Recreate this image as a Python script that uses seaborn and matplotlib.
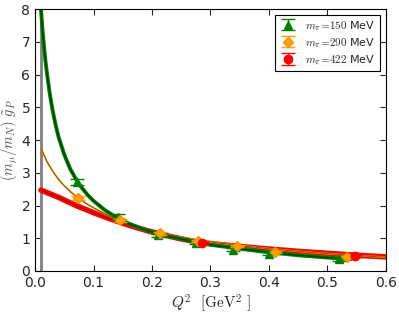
import matplotlib
matplotlib.use("Agg")
import matplotlib.pyplot as plt
import seaborn as sns
import numpy as np

# donnees lues sur la figure
# points lattice
q2_150 = [0.072, 0.142, 0.210, 0.275, 0.339, 0.400, 0.520]
gp_150 = [2.72, 1.66, 1.09, 0.86, 0.65, 0.53, 0.36]
err_150 = [0.10, 0.07, 0.05, 0.05, 0.04, 0.04, 0.04]

q2_290 = [0.073, 0.145, 0.214, 0.279, 0.345, 0.410, 0.533]
gp_290 = [2.24, 1.55, 1.15, 0.93, 0.76, 0.59, 0.44]
err_290 = [0.06, 0.05, 0.04, 0.03, 0.03, 0.03, 0.03]

q2_422 = [0.285, 0.547]
gp_422 = [0.86, 0.46]
err_422 = [0.03, 0.03]

# courbes de fit (valeurs centrales)
fit_x_150 = [0.01, 0.0125, 0.015, 0.0175, 0.02, 0.025, 0.03, 0.035, 0.04, 0.05,
             0.06, 0.07, 0.08, 0.09, 0.10, 0.12, 0.14, 0.16, 0.18, 0.20,
             0.23, 0.26, 0.30, 0.35, 0.40, 0.45, 0.50, 0.54]
fit_y_150 = [8.0, 7.40, 6.90, 6.45, 6.07, 5.42, 4.90, 4.47, 4.10, 3.55,
             3.12, 2.80, 2.54, 2.32, 2.14, 1.85, 1.63, 1.45, 1.31, 1.19,
             1.05, 0.94, 0.80, 0.68, 0.57, 0.48, 0.41, 0.36]

fit_x_290 = [0.01, 0.02, 0.03, 0.04, 0.05, 0.06, 0.07, 0.08, 0.09, 0.10,
             0.12, 0.14, 0.16, 0.18, 0.20, 0.24, 0.28, 0.32, 0.36, 0.40,
             0.45, 0.50, 0.55, 0.60]
fit_y_290 = [3.75, 3.35, 3.05, 2.80, 2.60, 2.43, 2.28, 2.15, 2.03, 1.93,
             1.74, 1.59, 1.45, 1.32, 1.21, 1.05, 0.93, 0.84, 0.76, 0.68,
             0.60, 0.53, 0.47, 0.42]

fit_x_422 = [0.01, 0.04, 0.07, 0.10, 0.13, 0.16, 0.19, 0.22, 0.25, 0.28,
             0.31, 0.35, 0.40, 0.45, 0.50, 0.55, 0.60]
fit_y_422 = [2.47, 2.25, 2.00, 1.78, 1.58, 1.40, 1.24, 1.10, 0.98, 0.88,
             0.82, 0.75, 0.67, 0.60, 0.54, 0.48, 0.43]

sns.set_style("ticks")
plt.rcParams['font.family'] = ['DejaVu Sans']
plt.rcParams['mathtext.fontset'] = 'cm'
plt.rcParams['xtick.direction'] = 'in'
plt.rcParams['ytick.direction'] = 'in'

fig = plt.figure(figsize=(3.99, 3.14), dpi=100)
ax = fig.add_axes([0.088, 0.137, 0.879, 0.834])

# bande (trait epais) + ligne centrale sombre
series = [
    (fit_x_422, fit_y_422, 'red', 4.0, 0.6),
    (fit_x_290, fit_y_290, 'orange', 1.3, 0.7),
    (fit_x_150, fit_y_150, 'green', 2.8, 1.0),
]
for fx, fy, col, wband, wline in series:
    sns.lineplot(x=fx, y=fy, color=col, lw=wband, ax=ax, sort=False, estimator=None)
    sns.lineplot(x=fx, y=fy, color='black', lw=wline, alpha=0.5, ax=ax, sort=False, estimator=None)

ax.axvline(0.01, color='gray', lw=2, zorder=1)

ax.errorbar(q2_150, gp_150, yerr=err_150, fmt='^', color='green', ms=6,
            capsize=5, elinewidth=1, mec='green', zorder=5, label=r'$m_\pi\!=\!150$ MeV')
ax.errorbar(q2_290, gp_290, yerr=err_290, fmt='D', color='orange', ms=5,
            capsize=5, elinewidth=1, mec='darkorange', zorder=5, label=r'$m_\pi\!=\!290$ MeV')
ax.errorbar(q2_422, gp_422, yerr=err_422, fmt='o', color='red', ms=6,
            capsize=5, elinewidth=1, mec='red', zorder=5, label=r'$m_\pi\!=\!422$ MeV')

ax.set_xlim(0, 0.6)
ax.set_ylim(0, 8)
ax.set_xticks(np.arange(0, 0.61, 0.1))
ax.set_yticks(range(0, 9))
ax.tick_params(top=True, right=True, labelsize=10, length=4, width=0.8)
for s in ax.spines.values():
    s.set_color('black')
    s.set_linewidth(0.8)

ax.set_xlabel(r'$Q^2\ \ [\mathrm{GeV}^2\ ]$', fontsize=11, labelpad=2)
ax.set_ylabel(r'$(m_\mu/m_N)\ \tilde{g}_P$', fontsize=10.5, color='#555555', labelpad=1)

leg = ax.legend(loc='upper right', fontsize=8, fancybox=False, framealpha=1,
                edgecolor='black', handlelength=1.5, borderpad=0.4, labelspacing=0.3)
leg.get_frame().set_linewidth(0.8)

fig.savefig('out.png', dpi=100)
